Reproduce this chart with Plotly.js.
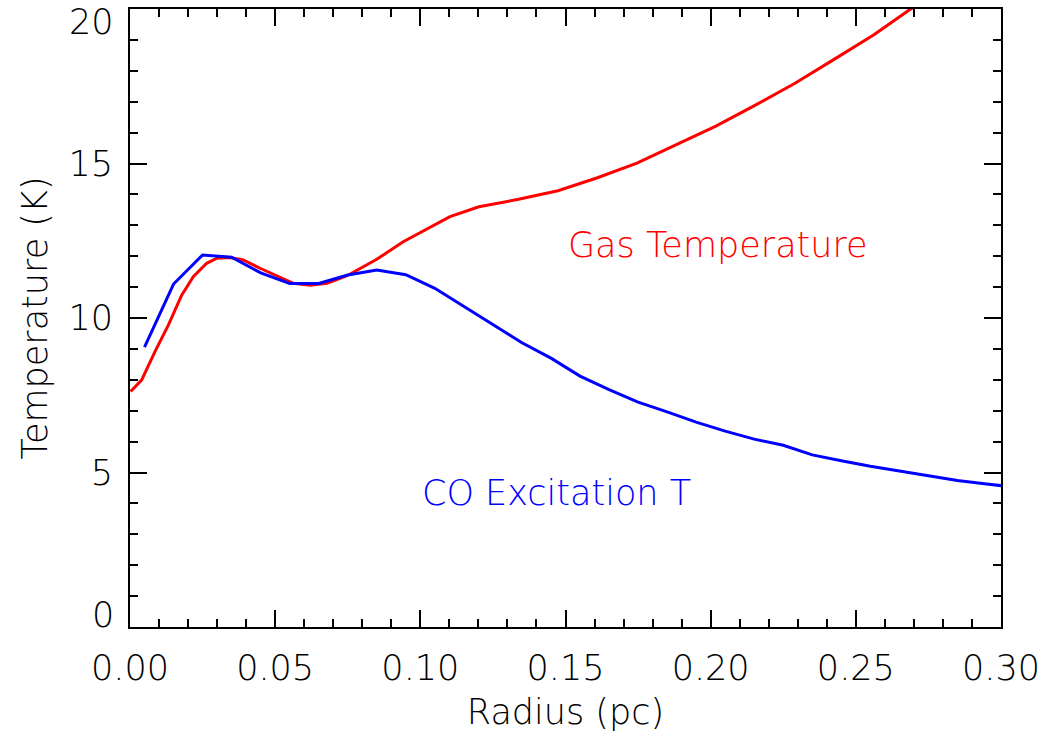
<!DOCTYPE html>
<html>
<head>
<meta charset="utf-8">
<script src="https://cdn.plot.ly/plotly-3.0.1.min.js"></script>
<style>html,body{margin:0;padding:0;background:#fff;}#chart{width:1044px;height:736px;}</style>
</head>
<body>
<div id="chart"></div>
<script>
// Gas temperature (red) vs radius
const gasRadius = [0.0002, 0.004, 0.0086, 0.0132, 0.0178, 0.0218, 0.0264, 0.0298, 0.0344, 0.039, 0.0448, 0.0505, 0.0563, 0.062, 0.0678, 0.0746, 0.085, 0.0941, 0.1045, 0.1102, 0.1202, 0.1338, 0.1474, 0.161, 0.1746, 0.1881, 0.2018, 0.2154, 0.2289, 0.2425, 0.2561, 0.2684, 0.28, 0.30];
const gasTemp = [7.62, 7.99, 8.91, 9.77, 10.74, 11.34, 11.77, 11.93, 11.96, 11.88, 11.61, 11.36, 11.12, 11.06, 11.12, 11.36, 11.90, 12.47, 13.01, 13.28, 13.60, 13.84, 14.12, 14.54, 15.01, 15.60, 16.21, 16.89, 17.59, 18.37, 19.16, 19.97, 20.7, 21.9];
// CO excitation temperature (blue) vs radius
const coRadius = [0.005, 0.015, 0.025, 0.035, 0.045, 0.055, 0.065, 0.075, 0.085, 0.095, 0.105, 0.115, 0.125, 0.135, 0.145, 0.155, 0.165, 0.175, 0.185, 0.195, 0.205, 0.215, 0.225, 0.235, 0.245, 0.255, 0.265, 0.275, 0.285, 0.295, 0.305];
const coTemp = [9.06, 11.10, 12.04, 11.97, 11.46, 11.12, 11.12, 11.39, 11.55, 11.40, 10.96, 10.37, 9.78, 9.20, 8.70, 8.12, 7.68, 7.28, 6.96, 6.63, 6.34, 6.08, 5.88, 5.57, 5.38, 5.20, 5.05, 4.89, 4.74, 4.63, 4.52];
const xTickVals = [0, 0.05, 0.10, 0.15, 0.20, 0.25, 0.30];
const xTickText = ["0.00", "0.05", "0.10", "0.15", "0.20", "0.25", "0.30"];
const yTickVals = [0, 5, 10, 15, 20];
const yTickText = ["0", "5", "10", "15", "20"];

const font = "DejaVu Sans, sans-serif";
const tickFont = {family: font, size: 35, color: '#000', weight: 200};
const traces = [
  {x: gasRadius, y: gasTemp, mode: 'lines', line: {color: '#ff0000', width: 3}, type: 'scatter'},
  {x: coRadius, y: coTemp, mode: 'lines', line: {color: '#0000ff', width: 3}, type: 'scatter'}
];
const axisCommon = {
  showgrid: false, zeroline: false, showline: true, linecolor: '#000', linewidth: 2,
  mirror: 'ticks', ticks: 'inside', ticklen: 17, tickwidth: 2, tickcolor: '#000',
  tickfont: tickFont
};
// End labels of the y axis are kept inside the frame (as in the original), others are normal tick labels
const yInnerText = yTickText.map((t, i) => (i === 0 || i === yTickText.length - 1) ? '' : t);
const yRange = [yTickVals[0], yTickVals[yTickVals.length - 1]];
const endLabels = [0, yTickVals.length - 1].map(i => ({
  x: 0, xref: 'paper', xanchor: 'right', xshift: -14,
  y: yTickVals[i], yref: 'y', yanchor: i === 0 ? 'bottom' : 'top',
  yshift: i === 0 ? -10 : 9,
  text: yTickText[i], showarrow: false, font: tickFont
}));
const layout = {
  width: 1044, height: 736,
  margin: {l: 130, r: 43, t: 9, b: 109},
  paper_bgcolor: '#fff', plot_bgcolor: '#fff',
  showlegend: false,
  xaxis: Object.assign({}, axisCommon, {
    range: [0, 0.30], tickmode: 'array', tickvals: xTickVals, ticktext: xTickText,
    minor: {dtick: 0.01, ticks: 'inside', ticklen: 8, tickwidth: 2, tickcolor: '#000', showgrid: false},
    ticklabelstandoff: 9,
    title: {text: 'Radius (pc)', font: {family: font, size: 35, color: '#000', weight: 200}, standoff: 12}
  }),
  yaxis: Object.assign({}, axisCommon, {
    range: yRange, tickmode: 'array', tickvals: yTickVals, ticktext: yInnerText,
    minor: {dtick: 1, ticks: 'inside', ticklen: 8, tickwidth: 2, tickcolor: '#000', showgrid: false},
    ticklabelstandoff: 8,
    title: {text: 'Temperature (K)', font: {family: font, size: 35, color: '#000', weight: 200}, standoff: 10}
  }),
  annotations: endLabels.concat([
    {x: 0.150, y: 12.36, xref: 'x', yref: 'y', text: 'Gas Temperature', showarrow: false, xanchor: 'left', yanchor: 'middle', font: {family: font, size: 35, color: '#ff0000', weight: 200}},
    {x: 0.0999, y: 4.34, xref: 'x', yref: 'y', text: 'CO Excitation T', showarrow: false, xanchor: 'left', yanchor: 'middle', font: {family: font, size: 35, color: '#0000ff', weight: 200}}
  ])
};
Plotly.newPlot('chart', traces, layout, {staticPlot: true, displayModeBar: false});
</script>
</body>
</html>
